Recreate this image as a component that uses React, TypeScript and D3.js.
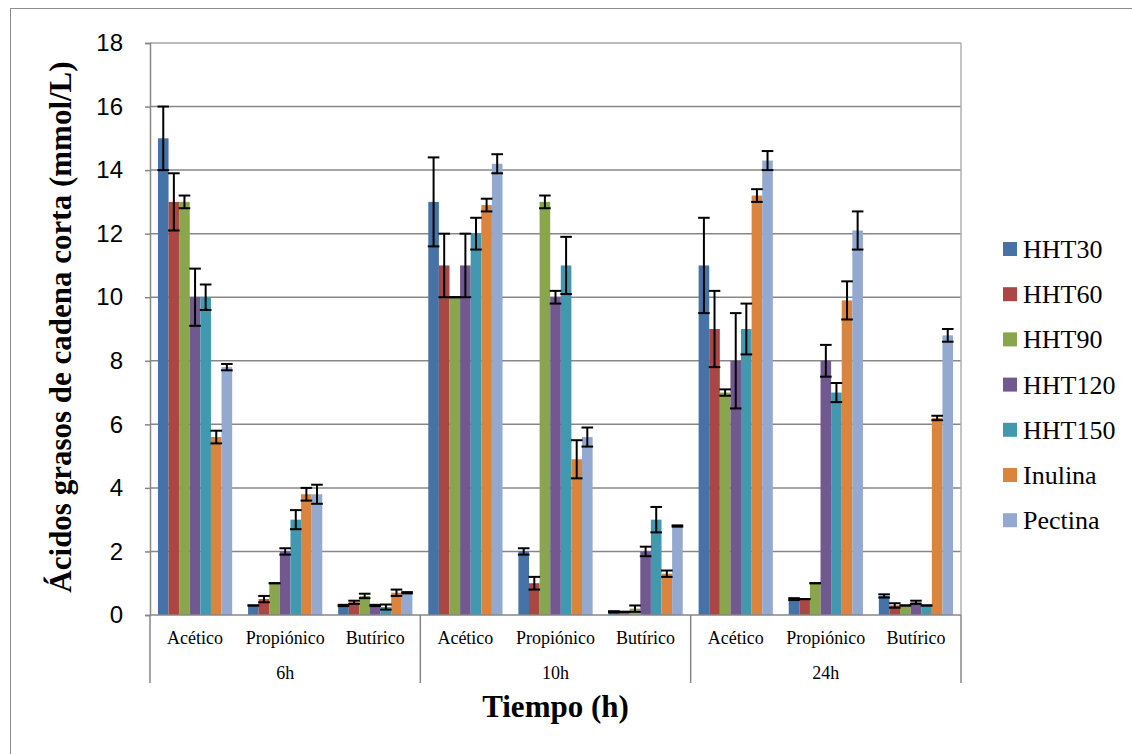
import * as d3 from "d3";
import { useEffect, useRef } from "react";

// categories (acid within time group)
const acids = ["Acético", "Propiónico", "Butírico"];
const times = ["6h", "10h", "24h"];
const seriesNames = ["HHT30", "HHT60", "HHT90", "HHT120", "HHT150", "Inulina", "Pectina"];
const seriesColors = ["#4572A7", "#AA4643", "#89A54E", "#71588F", "#4198AF", "#DB843D", "#93A9CF"];
const yTicks = [0, 2, 4, 6, 8, 10, 12, 14, 16, 18];

// values in order: 6h Ac, Pr, Bu, 10h Ac, Pr, Bu, 24h Ac, Pr, Bu
const hht30 = [15, 0.3, 0.3, 13, 2.0, 0.1, 11, 0.5, 0.6];
const hht60 = [13, 0.5, 0.4, 11, 1.0, 0.1, 9, 0.5, 0.3];
const hht90 = [13, 1.0, 0.6, 10, 13, 0.2, 7.0, 1.0, 0.3];
const hht120 = [10, 2.0, 0.3, 11, 10, 2.0, 8, 8, 0.4];
const hht150 = [10, 3.0, 0.25, 12, 11, 3.0, 9, 7.0, 0.3];
const inulina = [5.6, 3.8, 0.7, 12.9, 4.9, 1.3, 13.2, 9.9, 6.2];
const pectina = [7.8, 3.8, 0.7, 14.2, 5.6, 2.8, 14.3, 12.1, 8.8];

// error bars (+/-)
const hht30Err = [1, 0, 0.02, 1.4, 0.1, 0.02, 1.5, 0.03, 0.05];
const hht60Err = [0.9, 0.1, 0.05, 1, 0.2, 0, 1.2, 0, 0.07];
const hht90Err = [0.2, 0, 0.07, 0, 0.2, 0.1, 0.1, 0, 0];
const hht120Err = [0.9, 0.1, 0.02, 1, 0.2, 0.15, 1.5, 0.5, 0.05];
const hht150Err = [0.4, 0.3, 0.08, 0.5, 0.9, 0.4, 0.8, 0.3, 0];
const inulinaErr = [0.2, 0.2, 0.1, 0.2, 0.6, 0.1, 0.2, 0.6, 0.07];
const pectinaErr = [0.1, 0.3, 0.02, 0.3, 0.3, 0.02, 0.3, 0.6, 0.2];

const SERIF = "'Liberation Serif', 'Times New Roman', serif";

const App = () => {
    const ref = useRef<SVGSVGElement | null>(null);

    useEffect(() => {
        if (!ref.current) return;
        const svg = d3.select(ref.current);
        svg.selectAll("*").remove();

        const left = 150, right = 961, top = 43, bottom = 615;
        const values = [hht30, hht60, hht90, hht120, hht150, inulina, pectina];
        const errs = [hht30Err, hht60Err, hht90Err, hht120Err, hht150Err, inulinaErr, pectinaErr];

        const cats = times.flatMap(t => acids.map(a => `${t}|${a}`));
        const x0 = d3.scaleBand().domain(cats).range([left, right]).padding(0);
        const x1 = d3.scaleBand().domain(seriesNames).range([0, x0.bandwidth()])
            .paddingInner(0).paddingOuter(0.75);
        const xGroup = d3.scaleBand().domain(times).range([left, right]).padding(0);
        const y = d3.scaleLinear().domain([0, 18]).range([bottom, top]);

        // outer chart border
        svg.append("rect")
            .attr("x", 10.5).attr("y", 8.5)
            .attr("width", 1130).attr("height", 760)
            .attr("fill", "none").attr("stroke", "#8c8c8c").attr("stroke-width", 1);

        // gridlines
        svg.append("g").selectAll("line")
            .data(yTicks.filter(d => d > 0))
            .join("line")
            .attr("x1", left).attr("x2", right)
            .attr("y1", d => y(d)).attr("y2", d => y(d))
            .attr("stroke", d => d === 18 ? "#a6a6a6" : "#878787")
            .attr("stroke-width", 1.5);

        // right border of plot area
        svg.append("line")
            .attr("x1", right).attr("x2", right).attr("y1", top).attr("y2", bottom)
            .attr("stroke", "#b0b0b0").attr("stroke-width", 1.5);

        // bars
        const g = svg.append("g");
        seriesNames.forEach((s, si) => {
            g.append("g").selectAll("rect")
                .data(values[si])
                .join("rect")
                .attr("x", (_, i) => x0(cats[i])! + x1(s)!)
                .attr("y", d => y(d))
                .attr("width", x1.bandwidth())
                .attr("height", d => bottom - y(d))
                .attr("fill", seriesColors[si]);
        });

        // error bars
        seriesNames.forEach((s, si) => {
            const eg = g.append("g").attr("stroke", "#000").attr("stroke-width", 2);
            values[si].forEach((v, i) => {
                const cx = x0(cats[i])! + x1(s)! + x1.bandwidth() / 2;
                const e = errs[si][i];
                const hw = x1.bandwidth() / 2 + 0.5;
                const hi = y(v + e), lo = y(Math.max(0, v - e));
                eg.append("line").attr("x1", cx).attr("x2", cx).attr("y1", hi).attr("y2", lo);
                eg.append("line").attr("x1", cx - hw).attr("x2", cx + hw).attr("y1", hi).attr("y2", hi);
                eg.append("line").attr("x1", cx - hw).attr("x2", cx + hw).attr("y1", lo).attr("y2", lo);
            });
        });

        // y axis
        const yAxis = svg.append("g")
            .attr("transform", `translate(${left},0)`)
            .call(d3.axisLeft(y).tickValues(yTicks).tickSize(5).tickPadding(22));
        yAxis.select(".domain").attr("stroke", "#878787").attr("stroke-width", 1.5);
        yAxis.selectAll(".tick line").attr("stroke", "#878787").attr("stroke-width", 1.5);
        yAxis.selectAll("text")
            .attr("font-family", "'Liberation Sans', Arial, sans-serif")
            .attr("font-size", 24).attr("fill", "#000");

        // x axis line
        svg.append("line")
            .attr("x1", left).attr("x2", right).attr("y1", bottom).attr("y2", bottom)
            .attr("stroke", "#878787").attr("stroke-width", 1.5);

        // group separators
        svg.append("g").selectAll("line")
            .data([left, ...times.map(t => xGroup(t)! + xGroup.bandwidth())])
            .join("line")
            .attr("x1", d => d).attr("x2", d => d)
            .attr("y1", bottom).attr("y2", 683)
            .attr("stroke", "#878787").attr("stroke-width", 1.5);

        // category labels
        svg.append("g").selectAll("text")
            .data(cats)
            .join("text")
            .attr("x", d => x0(d)! + x0.bandwidth() / 2)
            .attr("y", 644)
            .attr("text-anchor", "middle")
            .style("font-family", SERIF)
            .style("font-size", "18px")
            .text(d => d.split("|")[1]);

        // time labels
        svg.append("g").selectAll("text")
            .data(times)
            .join("text")
            .attr("x", d => xGroup(d)! + xGroup.bandwidth() / 2)
            .attr("y", 679)
            .attr("text-anchor", "middle")
            .style("font-family", SERIF)
            .style("font-size", "18px")
            .text(d => d);

        // axis titles
        svg.append("text")
            .attr("x", (left + right) / 2).attr("y", 717)
            .attr("text-anchor", "middle")
            .style("font-family", SERIF)
            .style("font-size", "31px").style("font-weight", "bold")
            .text("Tiempo (h)");

        svg.append("text")
            .attr("transform", `translate(71,327) rotate(-90)`)
            .attr("text-anchor", "middle")
            .style("font-family", SERIF)
            .style("font-size", "31px").style("font-weight", "bold")
            .text("Ácidos grasos de cadena corta (mmol/L)");

        // legend
        const legend = svg.append("g").selectAll("g")
            .data(seriesNames)
            .join("g")
            .attr("transform", (_, i) => `translate(1003,${249 + i * 45.2})`);
        legend.append("rect")
            .attr("x", 0).attr("y", -7).attr("width", 14).attr("height", 14)
            .attr("fill", (_, i) => seriesColors[i]);
        legend.append("text")
            .attr("x", 20).attr("y", 9)
            .style("font-family", SERIF)
            .style("font-size", "26px")
            .text(d => d);
    }, []);

    return <svg width={1132} height={754} ref={ref}
        style={{ position: "absolute", left: 0, top: 0, background: "#fff" }} />;
};

export default App;
